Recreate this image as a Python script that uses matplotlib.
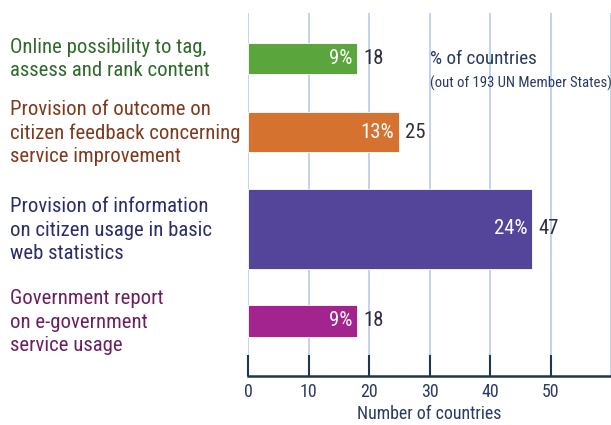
import matplotlib
matplotlib.use('Agg')
import matplotlib.pyplot as plt
import matplotlib.transforms as mtransforms
from matplotlib import font_manager
from matplotlib.textpath import TextPath
from matplotlib.font_manager import FontProperties

categories = ['Online possibility to tag,\nassess and rank content',
              'Provision of outcome on\ncitizen feedback concerning\nservice improvement',
              'Provision of information\non citizen usage in basic\nweb statistics',
              'Government report\non e-government\nservice usage']
counts = [18, 25, 47, 18]
percents = ['9%', '13%', '24%', '9%']
xticks = [0, 10, 20, 30, 40, 50]

bar_colors = ['#5aa53c', '#d6722f', '#54449a', '#a3238f']
label_colors = ['#2f6a2c', '#7d3a1c', '#2b2d6b', '#6c1f60']

# layout (pixel-like units from top of plot area)
centers = [45, 119, 216, 308]
heights = [31, 40, 80, 32]

# pick a narrow face if one is around
names = {f.name for f in font_manager.fontManager.ttflist}
stretch = 'normal'
family = 'DejaVu Sans'
for cand in ['Roboto Condensed', 'Liberation Sans Narrow', 'Open Sans Condensed', 'Noto Sans Condensed']:
    if cand in names:
        family = cand
        break
else:
    if any('Condensed' in f.fname and f.name == 'DejaVu Sans' for f in font_manager.fontManager.ttflist):
        stretch = 'condensed'
plt.rcParams['font.family'] = [family, 'DejaVu Sans']
plt.rcParams['font.stretch'] = stretch

# scale font so the first label matches its width in the reference (~195 px)
tp = TextPath((0, 0), 'Online possibility to tag,', size=10,
              prop=FontProperties(family=family, stretch=stretch))
w10 = tp.get_extents().width * 100 / 72
fs = 10 * 195 / w10

navy = '#2b3a60'
fig = plt.figure(figsize=(6.11, 4.25), dpi=100)
ax = fig.add_axes([248 / 611, 1 - 376 / 425, 1 - 248 / 611, (376 - 13) / 425])

ax.barh(centers, counts, height=heights, color=bar_colors, edgecolor='white', linewidth=0.6, zorder=2)
ax.set_xlim(0, 60)
ax.set_ylim(363, 0)

for x in range(0, 61, 10):
    ax.axvline(x, color='#b9cbeb', lw=1.2, zorder=1)

trans = mtransforms.blended_transform_factory(fig.transFigure, ax.transData)
for c, n, p, lc, cat in zip(centers, counts, percents, label_colors, categories):
    ax.text(n - 0.8, c, p, ha='right', va='center', color='white', fontsize=fs, zorder=3)
    ax.text(n + 1.0, c, str(n), ha='left', va='center', color='#2e2e3e', fontsize=fs, zorder=3)
    ax.text(10 / 611, c + 1, cat, transform=trans, ha='left', va='center', color=lc,
            fontsize=fs, linespacing=1.3, clip_on=False)

ax.text(30, 46, '% of countries', color=navy, fontsize=fs * 0.92, va='center', ha='left')
ax.text(30, 70, '(out of 193 UN Member States)', color=navy, fontsize=fs * 0.71, va='center', ha='left')

ax.set_xticks(xticks)
ax.set_xticklabels([str(t) for t in xticks], fontsize=fs * 0.86, color=navy)
ax.tick_params(axis='x', direction='in', length=15, width=1.5, color='#1f3550', pad=5)
ax.set_yticks([])
for s in ['top', 'right', 'left']:
    ax.spines[s].set_visible(False)
ax.spines['bottom'].set_color('#1f3550')
ax.spines['bottom'].set_linewidth(1.8)
ax.set_xlabel('Number of countries', fontsize=fs * 0.86, color=navy, labelpad=3)

fig.savefig('out.png', dpi=100)
